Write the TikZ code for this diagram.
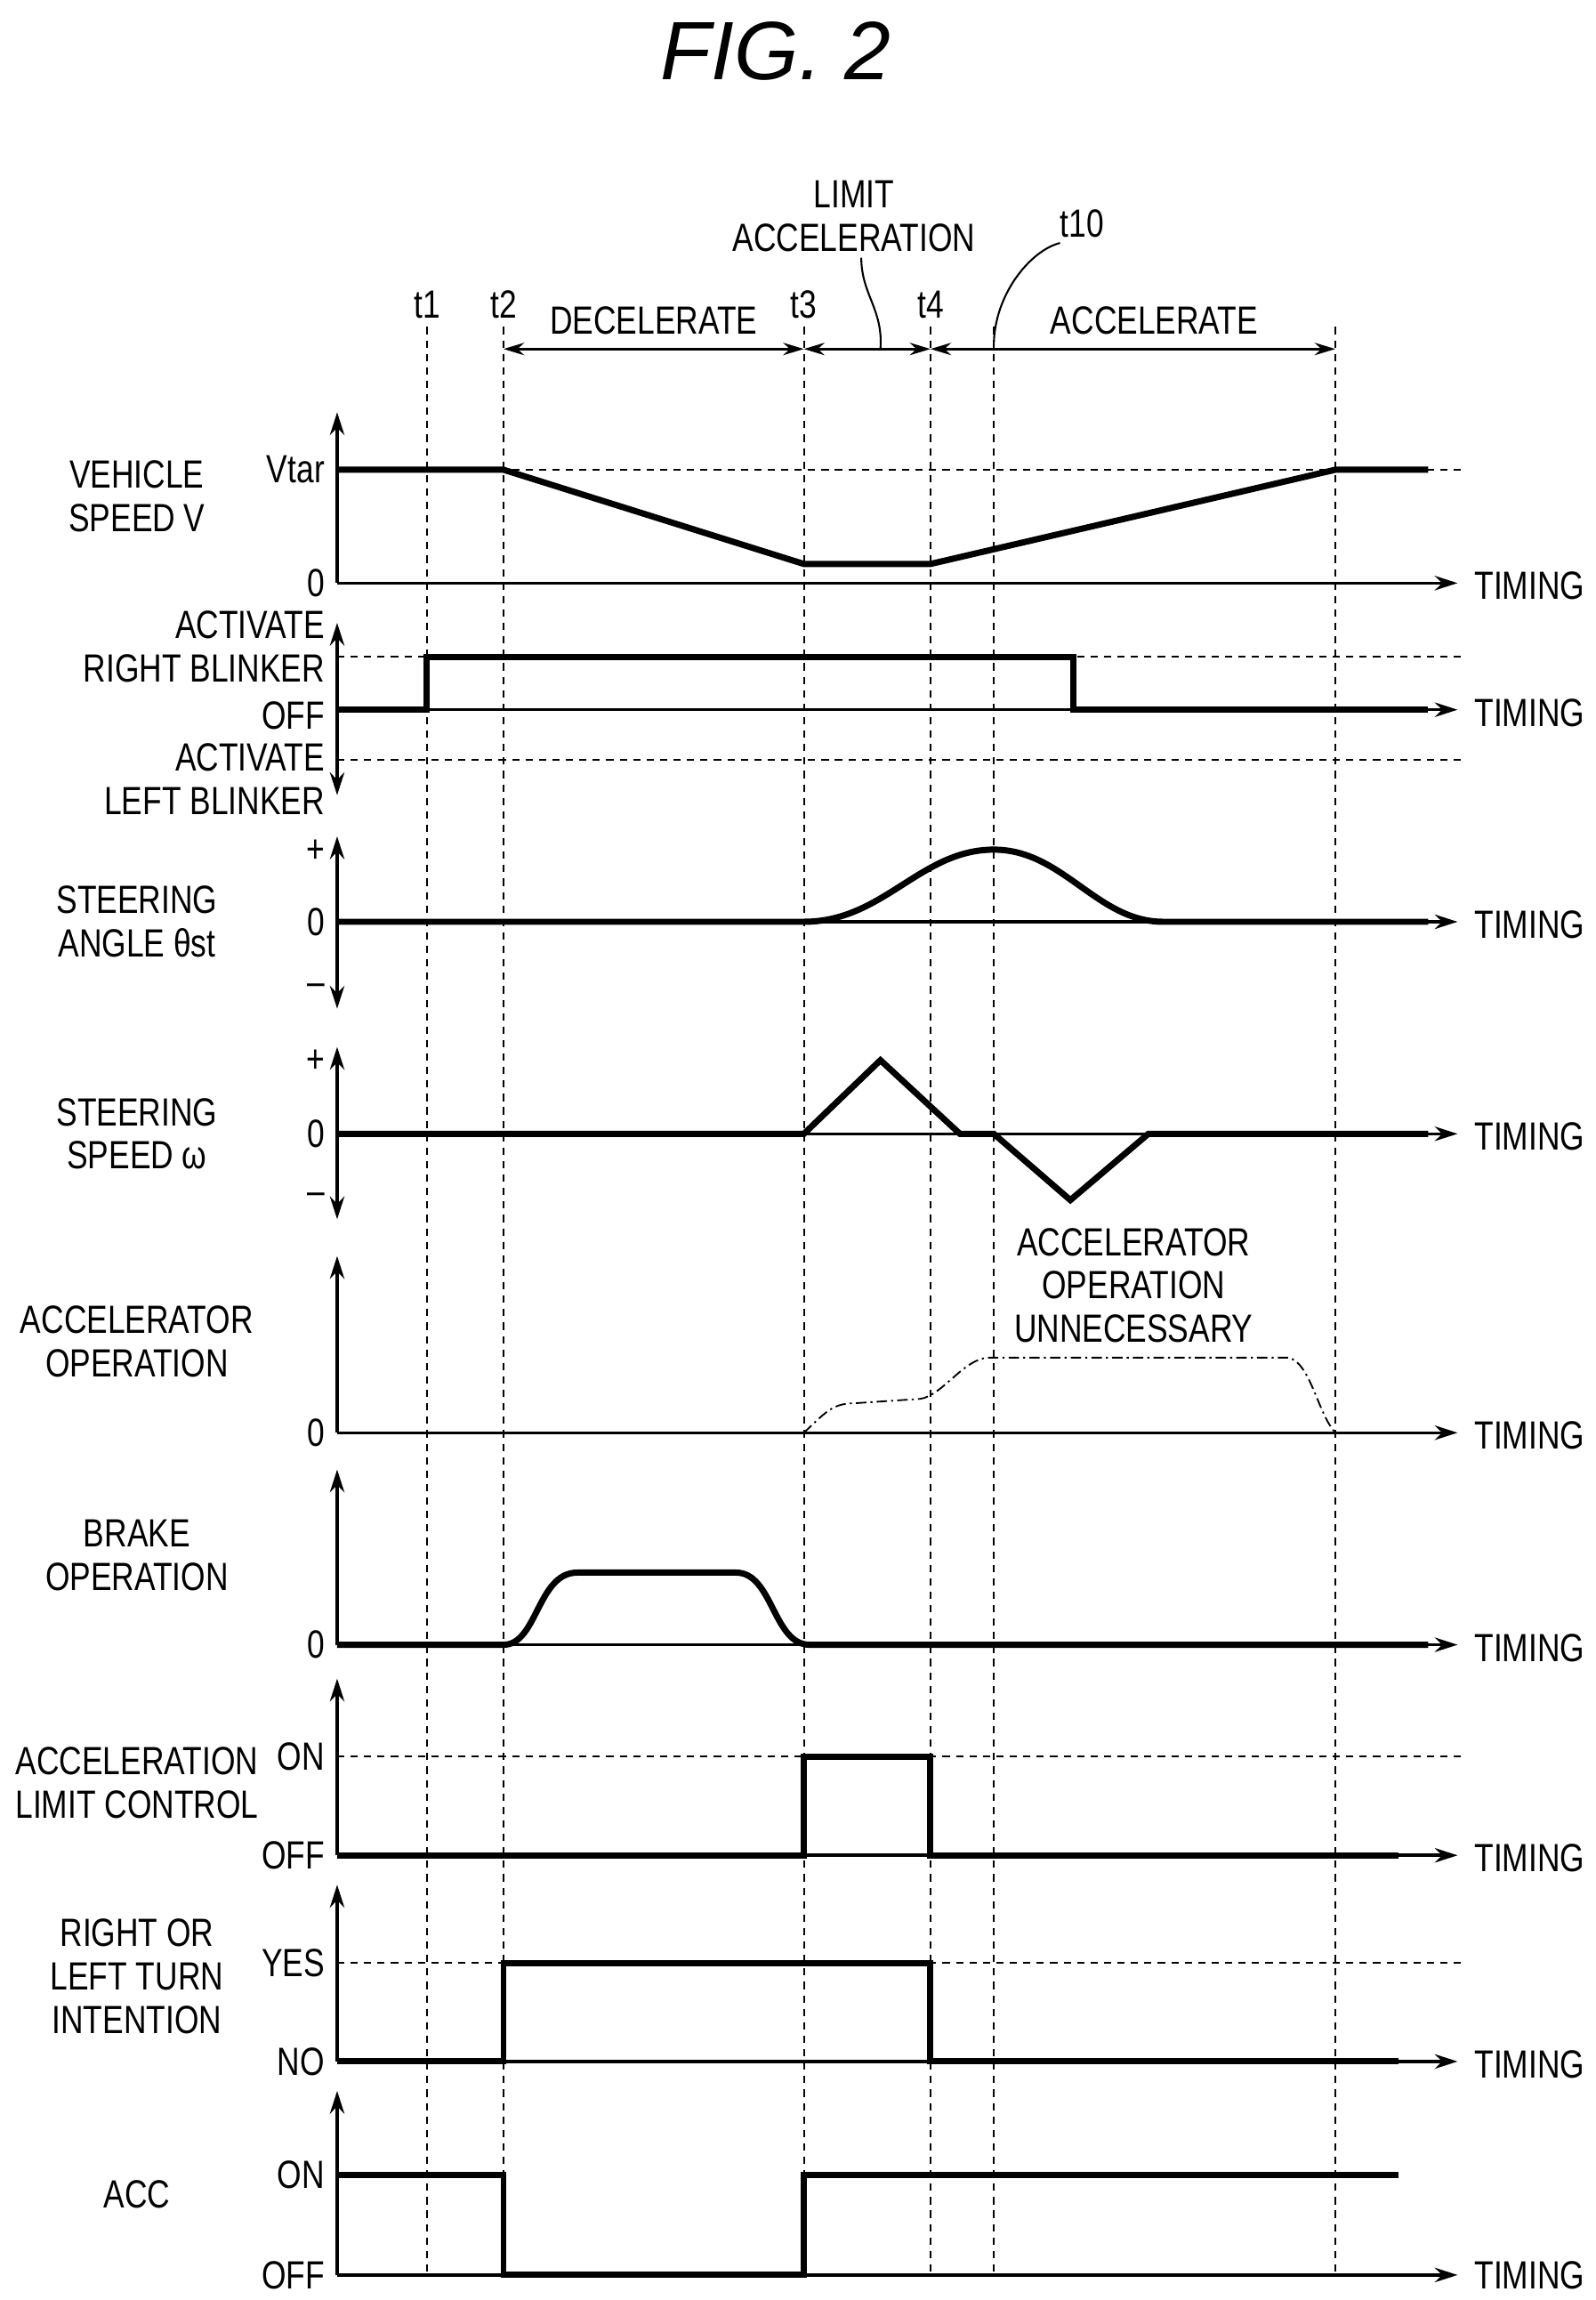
\documentclass[tikz,border=0pt]{standalone}
\usepackage{fontspec}
\setmainfont{Liberation Sans}[FakeStretch=0.8]
\newfontfamily\titlefont{Liberation Sans}
\usetikzlibrary{arrows.meta}
\tikzset{
 sig/.style={line width=6pt},
 ax/.style={line width=3pt,-{Stealth[length=22pt,width=14pt]}},
 axx/.style={line width=3pt,{Stealth[length=22pt,width=14pt]}-{Stealth[length=22pt,width=14pt]}},
 ref/.style={line width=1.6pt,dash pattern=on 7pt off 6pt},
 lbl/.style={font=\fontsize{38}{42}\selectfont,inner sep=2pt},
 ml/.style={lbl,align=center},
 lv/.style={lbl,anchor=east},
 tm/.style={lbl,anchor=west},
 dim/.style={line width=2.4pt,{Stealth[length=20pt,width=12pt]}-{Stealth[length=20pt,width=12pt]}},
}
\begin{document}
\begin{tikzpicture}[x=0.05cm,y=-0.05cm]
\useasboundingbox (0,0) rectangle (1084,1562);
\node[font=\titlefont\itshape\fontsize{80}{90}\selectfont] (title) at (527,35) {FIG. 2};
% vertical time lines
\foreach \x in {290,342,546,632,675,907} \draw[ref] (\x,222) -- (\x,1545);
\node[lbl] (t1) at (290,207) {t1};
\node[lbl] (t2) at (342,207) {t2};
\node[lbl] (t3) at (546,207) {t3};
\node[lbl] (t4) at (632,207) {t4};
\node[lbl] (t10) at (735,152) {t10};
\draw[line width=1.8pt] (675,235) .. controls (675,200) and (700,170) .. (720,165);
\node[ml] (lim) at (580,147) {LIMIT\\ACCELERATION};
\draw[line width=1.8pt] (585,175) .. controls (585,200) and (600,210) .. (598,237);
\draw[dim] (342,237) -- (546,237);
\draw[dim] (546,237) -- (632,237);
\draw[dim] (632,237) -- (907,237);
\node[lbl] (dec) at (444,218) {DECELERATE};
\node[lbl] (acc) at (784,218) {ACCELERATE};
% row 1
\draw[ax] (229,396) -- (229,280);
\draw[ax] (229,396) -- (990,396);
\node[tm] at (1000,398) {TIMING};
\draw[ref] (229,319) -- (993,319);
\node[lv] at (222,319) {Vtar};
\node[lv] at (222,396) {0};
\node[ml] at (93,337) {VEHICLE\\SPEED V};
\draw[sig] (229,319) -- (342,319) -- (546,383) -- (632,383) -- (907,319) -- (970,319);
% row 2
\draw[axx] (229,540) -- (229,423);
\draw[ax] (229,482) -- (990,482);
\node[tm] at (1000,484) {TIMING};
\draw[ref] (229,446) -- (993,446);
\draw[ref] (229,516) -- (993,516);
\node[lv,align=right] at (222,439) {ACTIVATE\\RIGHT BLINKER};
\node[lv] at (222,486) {OFF};
\node[lv,align=right] at (222,529) {ACTIVATE\\LEFT BLINKER};
\draw[sig] (229,482) -- (290,482) -- (290,446) -- (729,446) -- (729,482) -- (970,482);
% row 3
\draw[axx] (229,685) -- (229,568);
\draw[ax] (229,626) -- (990,626);
\node[tm] at (1000,628) {TIMING};
\node[lv] at (222,578) {+};
\node[lv] at (222,626) {0};
\node[lv] at (222,672) {–};
\node[ml] at (93,626) {STEERING\\ANGLE θst};
\draw[sig] (229,626) -- (546,626) .. controls (600,626) and (625,577) .. (675,577) .. controls (722,577) and (745,626) .. (790,626) -- (970,626);
% row 4
\draw[axx] (229,828) -- (229,711);
\draw[ax] (229,770) -- (990,770);
\node[tm] at (1000,772) {TIMING};
\node[lv] at (222,721) {+};
\node[lv] at (222,770) {0};
\node[lv] at (222,814) {–};
\node[ml] at (93,770) {STEERING\\SPEED ω};
\draw[sig] (229,770) -- (546,770) -- (598,720) -- (652,770) -- (675,770) -- (727,815) -- (780,770) -- (970,770);
% row 5
\draw[ax] (229,973) -- (229,853);
\draw[ax] (229,973) -- (990,973);
\node[tm] at (1000,975) {TIMING};
\node[lv] at (222,973) {0};
\node[ml] at (93,911) {ACCELERATOR\\OPERATION};
\node[ml] at (770,873) {ACCELERATOR\\OPERATION\\UNNECESSARY};
\draw[line width=1.6pt,dash pattern=on 10pt off 4pt on 2pt off 4pt] (546,973) .. controls (560,960) and (565,953) .. (580,953) -- (625,950) .. controls (640,948) and (655,922) .. (672,922) -- (875,922) .. controls (890,925) and (895,960) .. (907,973);
% row 6
\draw[ax] (229,1117) -- (229,998);
\draw[ax] (229,1117) -- (990,1117);
\node[tm] at (1000,1119) {TIMING};
\node[lv] at (222,1117) {0};
\node[ml] at (93,1056) {BRAKE\\OPERATION};
\draw[sig] (229,1117) -- (342,1117) .. controls (365,1117) and (365,1068) .. (392,1068) -- (500,1068) .. controls (525,1068) and (525,1117) .. (550,1117) -- (970,1117);
% row 7
\draw[ax] (229,1260) -- (229,1140);
\draw[ax] (229,1260) -- (990,1260);
\node[tm] at (1000,1262) {TIMING};
\draw[ref] (229,1193) -- (993,1193);
\node[lv] at (222,1193) {ON};
\node[lv] at (222,1260) {OFF};
\node[ml] at (93,1211) {ACCELERATION\\LIMIT CONTROL};
\draw[sig] (229,1260) -- (546,1260) -- (546,1193) -- (632,1193) -- (632,1260) -- (950,1260);
% row 8
\draw[ax] (229,1400) -- (229,1280);
\draw[ax] (229,1400) -- (990,1400);
\node[tm] at (1000,1402) {TIMING};
\draw[ref] (229,1333) -- (993,1333);
\node[lv] at (222,1333) {YES};
\node[lv] at (222,1400) {NO};
\node[ml] at (93,1342) {RIGHT OR\\LEFT TURN\\INTENTION};
\draw[sig] (229,1400) -- (342,1400) -- (342,1333) -- (632,1333) -- (632,1400) -- (950,1400);
% row 9
\draw[ax] (229,1545) -- (229,1420);
\draw[ax] (229,1545) -- (990,1545);
\node[tm] at (1000,1545) {TIMING};
\node[lv] at (222,1477) {ON};
\node[lv] at (222,1545) {OFF};
\node[lbl] at (93,1490) {ACC};
\draw[sig] (229,1477) -- (342,1477) -- (342,1545) -- (546,1545) -- (546,1477) -- (950,1477);
\end{tikzpicture}
\end{document}
